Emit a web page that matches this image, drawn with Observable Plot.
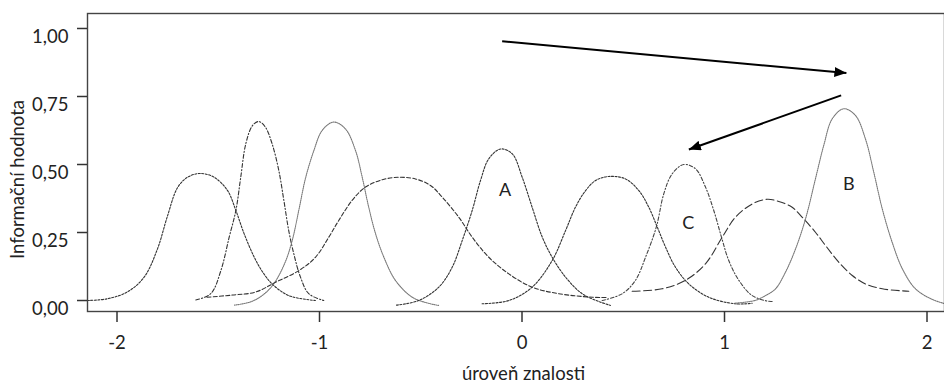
<!DOCTYPE html>
<html>
<head>
<meta charset="utf-8">
<script src="https://cdn.jsdelivr.net/npm/d3@7"></script>
<script src="https://cdn.jsdelivr.net/npm/@observablehq/plot@0.6"></script>
<style>
  body { margin: 0; background: #fff; }
  svg { display: block; }
</style>
</head>
<body>
<div id="chart"></div>
<script>
// Item information curves: [úroveň znalosti (theta), informační hodnota]
const item1 = [[-2.146,0.0],[-2.05,0.006],[-1.95,0.031],[-1.866,0.086],[-1.8,0.19],[-1.751,0.31],[-1.701,0.415],[-1.652,0.453],[-1.59,0.467],[-1.52,0.453],[-1.454,0.404],[-1.413,0.331],[-1.372,0.245],[-1.322,0.159],[-1.281,0.105],[-1.234,0.061],[-1.152,0.018],[-1.02,0.0]];
const item2 = [[-1.611,0.002],[-1.537,0.025],[-1.487,0.11],[-1.446,0.233],[-1.413,0.331],[-1.389,0.453],[-1.364,0.576],[-1.331,0.643],[-1.30,0.658],[-1.267,0.637],[-1.234,0.576],[-1.201,0.478],[-1.176,0.368],[-1.152,0.257],[-1.127,0.172],[-1.094,0.086],[-1.053,0.025],[-0.979,0.0]];
const item3 = [[-1.42,-0.017],[-1.34,-0.005],[-1.28,0.02],[-1.226,0.061],[-1.17,0.14],[-1.135,0.22],[-1.1,0.34],[-1.069,0.45],[-1.028,0.551],[-0.987,0.625],[-0.93,0.656],[-0.872,0.631],[-0.822,0.551],[-0.789,0.453],[-0.757,0.343],[-0.723,0.245],[-0.682,0.159],[-0.625,0.074],[-0.542,0.012],[-0.452,-0.012],[-0.412,-0.018]];
const item4 = [[-1.555,0.012],[-1.43,0.02],[-1.316,0.031],[-1.217,0.067],[-1.102,0.11],[-1.02,0.159],[-0.954,0.233],[-0.905,0.294],[-0.839,0.368],[-0.773,0.417],[-0.69,0.444],[-0.608,0.453],[-0.526,0.447],[-0.452,0.423],[-0.394,0.38],[-0.312,0.306],[-0.246,0.233],[-0.164,0.159],[-0.065,0.098],[0.05,0.049],[0.182,0.025],[0.347,0.012],[0.42,0.011]];
const item5 = [[-0.62,-0.017],[-0.51,0.0],[-0.411,0.049],[-0.345,0.122],[-0.295,0.221],[-0.246,0.331],[-0.205,0.441],[-0.164,0.521],[-0.106,0.557],[-0.048,0.539],[0.001,0.453],[0.05,0.343],[0.1,0.233],[0.149,0.159],[0.215,0.086],[0.297,0.025],[0.388,-0.006],[0.437,-0.018]];
const item6 = [[-0.197,-0.012],[-0.065,0.0],[0.05,0.049],[0.149,0.147],[0.215,0.257],[0.264,0.343],[0.314,0.404],[0.363,0.441],[0.429,0.456],[0.511,0.447],[0.577,0.404],[0.626,0.343],[0.668,0.27],[0.709,0.196],[0.758,0.122],[0.824,0.061],[0.922,0.012],[1.054,-0.012],[1.137,-0.01]];
const item7 = [[0.396,0.0],[0.495,0.025],[0.56,0.074],[0.61,0.159],[0.664,0.272],[0.70,0.392],[0.742,0.466],[0.799,0.5],[0.857,0.484],[0.906,0.417],[0.947,0.331],[0.985,0.233],[1.021,0.147],[1.071,0.074],[1.137,0.018],[1.219,-0.003],[1.242,-0.003]];
const item8 = [[0.544,0.034],[0.692,0.043],[0.807,0.074],[0.906,0.135],[0.989,0.233],[1.054,0.306],[1.137,0.355],[1.21,0.372],[1.268,0.364],[1.334,0.343],[1.384,0.306],[1.449,0.251],[1.499,0.202],[1.564,0.141],[1.631,0.092],[1.696,0.061],[1.779,0.043],[1.91,0.034]];
const item9 = [[1.05,-0.01],[1.15,0.0],[1.202,0.018],[1.252,0.043],[1.301,0.104],[1.351,0.19],[1.40,0.3],[1.449,0.447],[1.49,0.57],[1.532,0.668],[1.589,0.705],[1.647,0.68],[1.696,0.594],[1.737,0.472],[1.779,0.337],[1.828,0.214],[1.878,0.117],[1.943,0.043],[2.026,0.004],[2.09,-0.012]];

// Item labels
const labelNames = ["A", "C", "B"];
const labelTheta = [-0.083, 0.821, 1.614];
const labelInfo  = [0.407, 0.284, 0.429];

// Arrows (start -> end)
const arrowFromTheta = [-0.098, 1.576];
const arrowFromInfo  = [0.953, 0.754];
const arrowToTheta   = [1.602, 0.824];
const arrowToInfo    = [0.836, 0.555];

// Axes
const xTicks = [-2, -1, 0, 1, 2];
const xTickLabels = ["-2", "-1", "0", "1", "2"];
const yTicks = [0, 0.25, 0.5, 0.75, 1];
const yTickLabels = ["0,00", "0,25", "0,50", "0,75", "1,00"];
const xTitle = "úroveň znalosti";
const yTitle = "Informační hodnota";

// Line style for each curve
const curves = [
  {data: item1, dash: "2,1.5", stroke: "#333"},
  {data: item2, dash: "4,2,1.2,2", stroke: "#333"},
  {data: item3, dash: "1,1", stroke: "#777"},
  {data: item4, dash: "4,2.2", stroke: "#333"},
  {data: item5, dash: "2,1.5", stroke: "#333"},
  {data: item6, dash: "2,1.5", stroke: "#333"},
  {data: item7, dash: "3.5,2,1.2,2", stroke: "#444"},
  {data: item8, dash: "8,3.5", stroke: "#333"},
  {data: item9, dash: "1,1", stroke: "#777"}
];

const labels = labelNames.map((t, i) => ({t, x: labelTheta[i], y: labelInfo[i]}));
const arrows = arrowFromTheta.map((_, i) => ({x1: arrowFromTheta[i], y1: arrowFromInfo[i], x2: arrowToTheta[i], y2: arrowToInfo[i]}));
const toRows = (pts) => pts.map(([x, y]) => ({x, y}));

const font = "Lato, 'Open Sans', sans-serif";
const fs = 18.5;

const chart = Plot.plot({
  width: 944,
  height: 385,
  marginLeft: 87,
  marginRight: 0,
  marginTop: 13,
  marginBottom: 74,
  style: {fontFamily: font, fontSize: fs + "px", color: "#222", background: "#fff"},
  x: {domain: [-2.1457, 2.0864]},
  y: {domain: [-0.0404, 1.0551]},
  marks: [
    ...curves.map(c => Plot.line(toRows(c.data), {
      x: "x", y: "y", curve: "catmull-rom", clip: true,
      stroke: c.stroke, strokeWidth: 1.1, strokeDasharray: c.dash
    })),
    Plot.link(arrows, {x1: "x1", y1: "y1", x2: "x2", y2: "y2", stroke: "#000", strokeWidth: 2}),
    Plot.text(labels, {x: "x", y: "y", text: "t", fontSize: 18, fill: "#222"}),
    Plot.frame({stroke: "#444", strokeWidth: 1.4}),
    Plot.axisX({ticks: xTicks, tickFormat: d => xTickLabels[xTicks.indexOf(d)], tickSize: 11, tickPadding: 13, label: null, fontSize: fs, stroke: "#333", strokeWidth: 1.5}),
    Plot.axisY({ticks: yTicks, tickSize: 10, text: null, label: null, stroke: "#333", strokeWidth: 1.5}),
    Plot.axisY({ticks: yTicks, tickSize: 0, tickPadding: 19, dy: 9, tickFormat: d => yTickLabels[yTicks.indexOf(d)], label: null, fontSize: fs}),
    Plot.text([xTitle], {frameAnchor: "bottom", text: d => d, textAnchor: "middle", lineAnchor: "middle", dx: 7.5, dy: 63, fontSize: fs, fill: "#222"}),
    Plot.text([yTitle], {frameAnchor: "left", text: d => d, textAnchor: "middle", lineAnchor: "middle", rotate: -90, dx: -69, dy: 17, fontSize: fs, fill: "#222"})
  ]
});

// Filled arrowheads at the ends of the arrow links
const svg = d3.select(chart);
svg.insert("defs", ":first-child")
  .append("marker")
  .attr("id", "arrowhead")
  .attr("viewBox", "0 0 12 10")
  .attr("refX", 12)
  .attr("refY", 5)
  .attr("markerWidth", 12)
  .attr("markerHeight", 10)
  .attr("markerUnits", "userSpaceOnUse")
  .attr("orient", "auto")
  .append("path")
  .attr("d", "M0,0L12,5L0,10Z")
  .attr("fill", "#000");
svg.selectAll('g[aria-label="link"] path').attr("marker-end", "url(#arrowhead)");

document.getElementById("chart").appendChild(chart);
</script>
</body>
</html>
